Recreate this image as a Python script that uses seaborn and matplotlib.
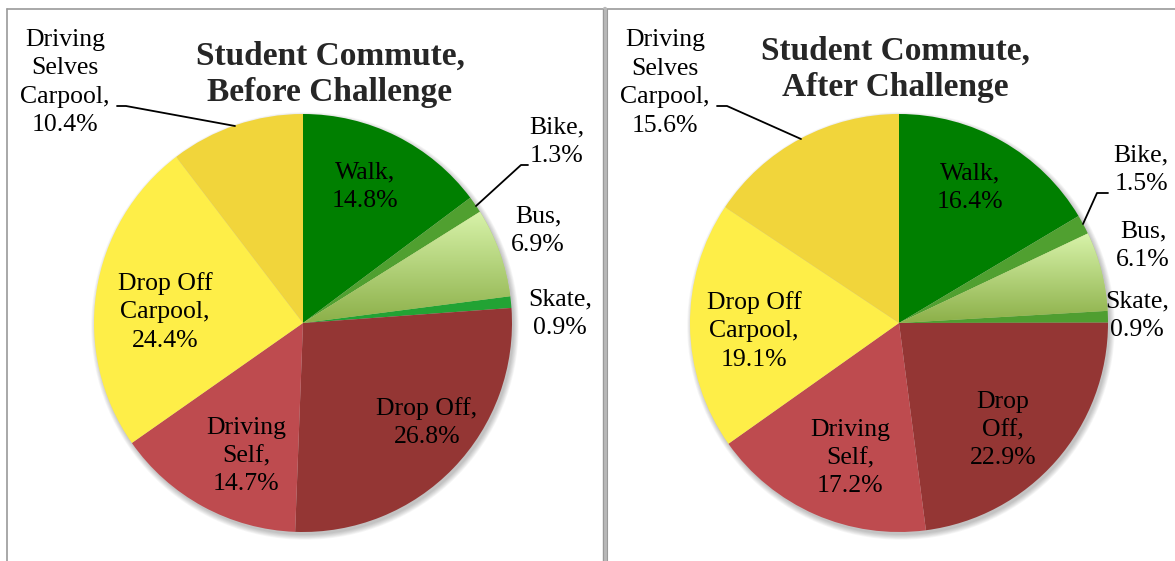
import numpy as np
import matplotlib
matplotlib.use("Agg")
import matplotlib.pyplot as plt
import seaborn as sns
from matplotlib.patches import Circle

# commute share (%) per mode
categories = ["Walk", "Bike", "Bus", "Skate", "Drop Off", "Driving Self",
              "Drop Off Carpool", "Driving Selves Carpool"]
before = [14.8, 1.3, 6.9, 0.9, 26.8, 14.7, 24.4, 10.4]
after = [16.4, 1.5, 6.1, 0.9, 22.9, 17.2, 19.1, 15.6]

# how Excel wrapped each category name
names_before = ["Walk,", "Bike,", "Bus,", "Skate,", "Drop Off,", "Driving\nSelf,",
                "Drop Off\nCarpool,", "Driving\nSelves\nCarpool,"]
names_after = ["Walk,", "Bike,", "Bus,", "Skate,", "Drop\nOff,", "Driving\nSelf,",
               "Drop Off\nCarpool,", "Driving\nSelves\nCarpool,"]

titles = ["Student Commute,\nBefore Challenge", "Student Commute,\nAfter Challenge"]

colors_before = sns.color_palette(["#007F00", "#50A030", "#B0D070", "#22A334",
                                   "#943634", "#BE4B4F", "#FEEE48", "#F1D53B"])
colors_after = sns.color_palette(["#007F00", "#50A030", "#B0D070", "#4F9E30",
                                  "#943634", "#BE4B4F", "#FEEE48", "#F1D53B"])

W, H = 1175, 561

sns.set_style("white")
plt.rcParams['font.family'] = ['Liberation Serif', 'DejaVu Serif']

fig = plt.figure(figsize=(W / 100, H / 100), dpi=100)
ax = fig.add_axes([0, 0, 1, 1])


def py(y):
    # pixel row (from top) -> data y
    return H - y


charts = [
    dict(values=before, names=names_before, colors=colors_before, title=titles[0],
         center=(303, 323), title_pos=(330, 74),
         label_pos=[(365, 186.5), (557, 142), (538, 230.5), (560, 314),
                    (427, 422.5), (246, 456), (165, 312), (65, 82.5)],
         leaders=[[(476, 206), (521, 165), (528, 165)],
                  [(117, 106), (126, 106), (235, 126)]]),
    dict(values=after, names=names_after, colors=colors_after, title=titles[1],
         center=(899, 323), title_pos=(895, 69),
         label_pos=[(970, 187.5), (1141, 170), (1143, 246), (1137, 315.5),
                    (1003, 430), (850, 458), (754, 331), (665, 83)],
         leaders=[[(1083, 224), (1097, 193), (1108, 193)],
                  [(717, 106), (727, 106), (801, 139)]]),
]

R = 209

for ch in charts:
    cx, cy = ch["center"][0], py(ch["center"][1])

    # soft drop shadow
    for k in range(7):
        ax.add_patch(Circle((cx + 2, cy - 3), R + k * 0.8, color="black",
                            alpha=0.035, lw=0, zorder=0))

    wedges, _ = ax.pie(ch["values"], colors=ch["colors"], startangle=90,
                       counterclock=False, center=(cx, cy), radius=R,
                       wedgeprops=dict(linewidth=0))
    for w in wedges:
        w.set_zorder(1)

    # bus wedge has a vertical gradient fill
    bus = wedges[categories.index("Bus")]
    ext = bus.get_path().get_extents()
    top = np.array(matplotlib.colors.to_rgb("#D8F3AA"))
    bot = np.array(matplotlib.colors.to_rgb("#8CB049"))
    t = np.linspace(0, 1, 200)[:, None]
    grad = (top * (1 - t) + bot * t)[:, None, :]
    im = ax.imshow(grad, extent=[ext.x0, ext.x1, ext.y0, ext.y1],
                   origin="upper", aspect="auto", zorder=2, interpolation="bilinear")
    im.set_clip_path(bus)

    for name, val, (lx, ly) in zip(ch["names"], ch["values"], ch["label_pos"]):
        ax.text(lx, py(ly), f"{name}\n{val:.1f}%", ha="center", va="center",
                fontsize=18.5, linespacing=1.38, color="black", zorder=5)

    for pts in ch["leaders"]:
        xs = [p[0] for p in pts]
        ys = [py(p[1]) for p in pts]
        ax.plot(xs, ys, color="black", lw=1.3, zorder=4)

    ax.text(ch["title_pos"][0], py(ch["title_pos"][1]), ch["title"], ha="center",
            va="center", fontsize=24, fontweight="bold", linespacing=1.22, zorder=5)

# panel frames
frame = "#9A9A9A"
ax.plot([7, W], [py(9), py(9)], color=frame, lw=1.2, zorder=6)
ax.plot([7, 7], [py(9), 0], color=frame, lw=1.2, zorder=6)
ax.plot([604.5, 604.5], [py(9), 0], color="#B8B8B8", lw=3.2, zorder=6)
ax.plot([603, 603], [py(9), 0], color=frame, lw=0.8, zorder=6)
ax.plot([606.5, 606.5], [py(9), 0], color=frame, lw=0.8, zorder=6)

ax.set_xlim(0, W)
ax.set_ylim(0, H)
ax.set_aspect("auto")
ax.axis("off")

fig.savefig("out.png", dpi=100)
plt.close(fig)
